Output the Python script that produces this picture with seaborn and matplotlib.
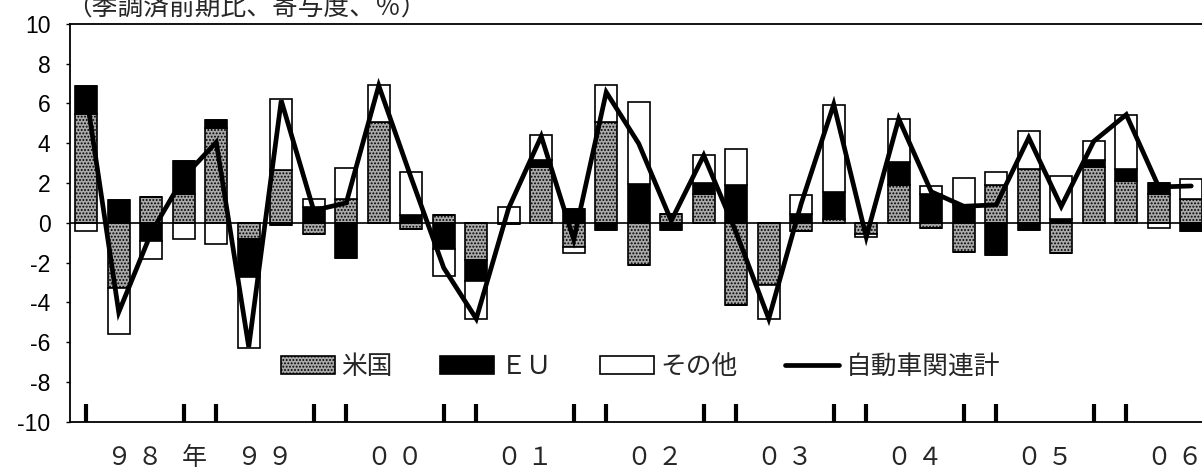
import numpy as np
import matplotlib
matplotlib.use("Agg")
import matplotlib.pyplot as plt
import seaborn as sns
from matplotlib.patches import Patch
from matplotlib.lines import Line2D

# Quarterly contributions (seasonally adjusted, q/q, % points), 1998 Q1 onward
us = [5.49, -3.27, 1.29, 1.43, 4.78, -0.84, 2.67, -0.55, 1.17, 5.07,
      -0.29, 0.40, -1.86, 0.00, 2.80, -1.22, 5.07, -2.11, 0.45, 1.46,
      -4.16, -3.15, -0.39, 0.20, -0.55, 1.88, -0.25, -1.48, 1.91, 2.72,
      -1.53, 2.80, 2.08, 1.46, 1.21]
eu = [1.37, 1.12, -0.92, 1.67, 0.37, -1.89, -0.10, 0.79, -1.76, 0.00,
      0.40, -1.31, -1.08, -0.05, 0.37, 0.70, -0.35, 1.96, -0.35, 0.55,
      1.88, 0.00, 0.42, 1.34, 0.00, 1.17, 1.43, 0.87, -1.64, -0.35,
      0.20, 0.37, 0.64, 0.55, -0.39]
other = [-0.39, -2.32, -0.89, -0.81, -1.09, -3.55, 3.57, 0.42, 1.58, 1.84,
         2.13, -1.37, -1.89, 0.79, 1.23, -0.31, 1.84, 4.11, 0.00, 1.38,
         1.81, -1.68, 0.96, 4.40, -0.17, 2.18, 0.40, 1.40, 0.64, 1.89,
         2.13, 0.94, 2.72, -0.25, 1.00]
auto_total = [6.47, -4.50, -0.50, 2.30, 4.05, -6.25, 6.15, 0.62, 1.00, 6.90,
              2.25, -2.27, -4.83, 0.75, 4.35, -0.85, 6.57, 3.98, 0.10, 3.39,
              -0.50, -4.83, 0.97, 5.96, -0.72, 5.23, 1.56, 0.83, 0.90, 4.28,
              0.82, 4.10, 5.44, 1.80, 1.85]

series_names = ["米国", "ＥＵ", "その他"]
line_name = "自動車関連計"
title_text = "（季調済前期比、寄与度、％）"

year_labels = ["９ ８", "９ ９", "０ ０", "０ １", "０ ２", "０ ３", "０ ４", "０ ５", "０ ６"]
year_pos = [1.5, 5.5, 9.5, 13.5, 17.5, 21.5, 25.5, 29.5, 33.5]
year_suffix = "年"
boundary_ticks = [0, 3, 4, 7, 8, 11, 12, 15, 16, 19, 20, 23, 24, 27, 28, 31, 32]

sns.set_theme(style="white")
plt.rcParams["font.family"] = ["Liberation Sans", "Noto Sans CJK JP", "DejaVu Sans"]
plt.rcParams["hatch.linewidth"] = 0.9

GRAY = "#a9a9a9"

W, H = 1202, 469
fig = plt.figure(figsize=(W / 100, H / 100), dpi=100)
ax = fig.add_axes([70 / W, 47.5 / H, 1170 / W, 397.5 / H])

x = np.arange(len(us))
layers = [np.array(us), np.array(eu), np.array(other)]
styles = [
    dict(facecolor=GRAY, hatch="....."),
    dict(facecolor="black"),
    dict(facecolor="white"),
]
pos_base = np.zeros(len(x))
neg_base = np.zeros(len(x))
for vals, st in zip(layers, styles):
    pos = np.where(vals > 0, vals, 0)
    neg = np.where(vals < 0, vals, 0)
    ax.bar(x, pos, bottom=pos_base, width=0.68, edgecolor="black",
           linewidth=1.2, zorder=2, **st)
    ax.bar(x, neg, bottom=neg_base, width=0.68, edgecolor="black",
           linewidth=1.2, zorder=2, **st)
    pos_base += pos
    neg_base += neg

ax.axhline(0, color="black", lw=1.2, zorder=2.5)

sns.lineplot(x=x, y=auto_total, ax=ax, color="black", lw=3.4,
             legend=False, zorder=3)
for ln in ax.lines:
    ln.set_solid_joinstyle("miter")

ax.set_xlim(-0.5, 35.5)
ax.set_ylim(-10, 10)
ax.set_yticks(np.arange(-10, 11, 2))
ax.set_yticklabels([str(v) for v in range(-10, 11, 2)])
ax.set_xticks(boundary_ticks)
ax.set_xticklabels([])
ax.set_xlabel("")
ax.set_ylabel("")
ax.tick_params(axis="y", direction="out", length=3, width=1, pad=11,
               labelsize=16.5, left=True, colors="black")
ax.tick_params(axis="x", direction="in", length=13, width=3, bottom=True,
               labelbottom=False, color="black")

for side in ["top", "left", "bottom"]:
    ax.spines[side].set_visible(True)
    ax.spines[side].set_color("black")
    ax.spines[side].set_linewidth(1.3)
ax.spines["right"].set_visible(False)

tr = ax.get_xaxis_transform()
for lbl, p in zip(year_labels, year_pos):
    ax.text(p, -0.109, lbl, transform=tr, ha="center", va="baseline",
            fontsize=18, family=["Noto Sans CJK JP"], clip_on=False)
ax.text(3.32, -0.109, year_suffix, transform=tr, ha="center", va="baseline",
        fontsize=18, family=["Noto Sans CJK JP"], clip_on=False)

fig.text(66 / W, 1 - 15 / H, title_text, ha="left", va="baseline",
         fontsize=18.5, family=["Noto Sans CJK JP"])

handles = [
    Patch(facecolor=GRAY, hatch=".....", edgecolor="black", linewidth=1.2),
    Patch(facecolor="black", edgecolor="black", linewidth=1.2),
    Patch(facecolor="white", edgecolor="black", linewidth=1.2),
    Line2D([0], [0], color="black", lw=3.4),
]
leg = ax.legend(handles, series_names + [line_name], ncol=4, frameon=False,
                loc="center left", bbox_to_anchor=(281 / W, 1 - 367 / H),
                bbox_transform=fig.transFigure, borderaxespad=0, borderpad=0,
                handlelength=2.1, handleheight=0.7, handletextpad=0.25,
                columnspacing=1.85, prop={"family": "Noto Sans CJK JP", "size": 18.5})

fig.savefig("out.png", dpi=100, facecolor="white")
